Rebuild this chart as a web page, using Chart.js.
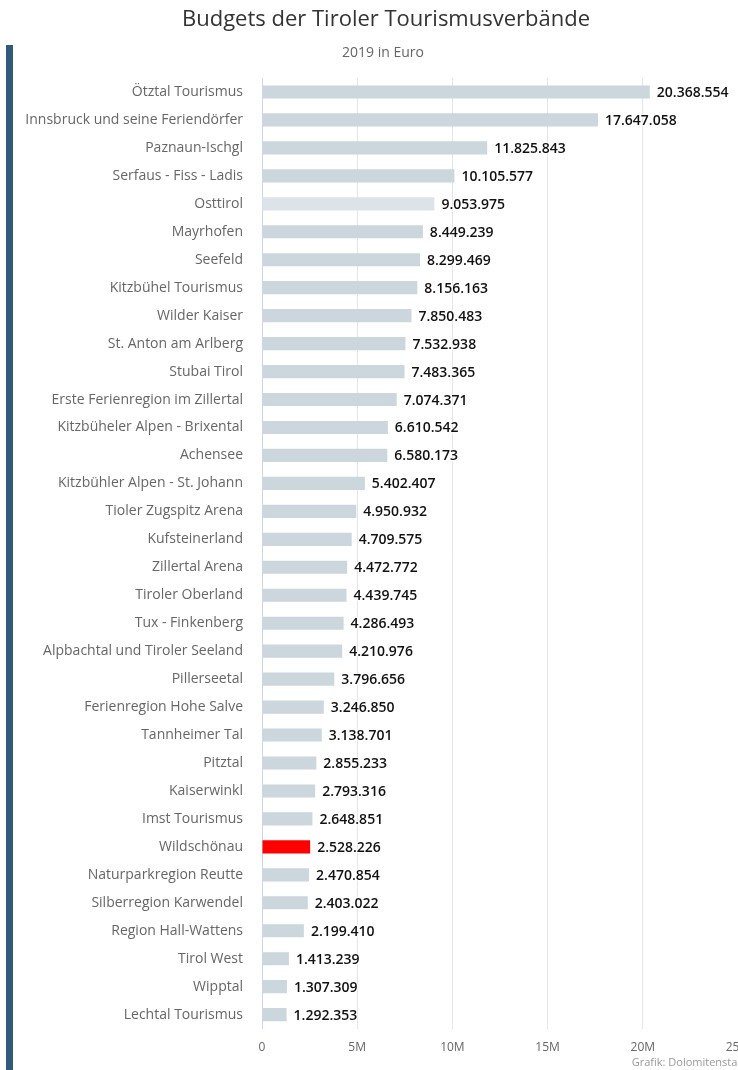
<!DOCTYPE html>
<html>
<head>
<meta charset="utf-8">
<script src="https://cdn.jsdelivr.net/npm/chart.js@4.4.1/dist/chart.umd.min.js"></script>
<style>
html,body{margin:0;padding:0;background:#fff;}
#wrap{position:relative;width:738px;height:1070px;}
</style>
</head>
<body>
<div id="wrap"><canvas id="c" width="738" height="1070"></canvas></div>
<script>
const titleText = 'Budgets der Tiroler Tourismusverbände';
const subtitleText = '2019 in Euro';
const creditText = 'Grafik: Dolomitenstadt';

const categories = [
  'Ötztal Tourismus','Innsbruck und seine Feriendörfer','Paznaun-Ischgl','Serfaus - Fiss - Ladis',
  'Osttirol','Mayrhofen','Seefeld','Kitzbühel Tourismus','Wilder Kaiser','St. Anton am Arlberg',
  'Stubai Tirol','Erste Ferienregion im Zillertal','Kitzbüheler Alpen - Brixental','Achensee',
  'Kitzbühler Alpen - St. Johann','Tioler Zugspitz Arena','Kufsteinerland','Zillertal Arena',
  'Tiroler Oberland','Tux - Finkenberg','Alpbachtal und Tiroler Seeland','Pillerseetal',
  'Ferienregion Hohe Salve','Tannheimer Tal','Pitztal','Kaiserwinkl','Imst Tourismus',
  'Wildschönau','Naturparkregion Reutte','Silberregion Karwendel','Region Hall-Wattens',
  'Tirol West','Wipptal','Lechtal Tourismus'
];
const budgets = [
  20368554,17647058,11825843,10105577,9053975,8449239,8299469,8156163,7850483,7532938,
  7483365,7074371,6610542,6580173,5402407,4950932,4709575,4472772,4439745,4286493,
  4210976,3796656,3246850,3138701,2855233,2793316,2648851,2528226,2470854,2403022,
  2199410,1413239,1307309,1292353
];
const xTicks = [0, 5000000, 10000000, 15000000, 20000000, 25000000];
const xTickLabels = ['0', '5M', '10M', '15M', '20M', '25M'];
const highlight = 'Wildschönau';
const hovered = 'Osttirol';

const barColors = categories.map(c => c === highlight ? '#ff0000' : (c === hovered ? '#dde4e9' : '#ccd6dd'));

function fmt(v){ return String(v).replace(/\B(?=(\d{3})+(?!\d))/g, '.'); }

const deco = {
  id: 'deco',
  beforeDraw(chart){
    const ctx = chart.ctx;
    ctx.save();
    ctx.fillStyle = '#fff';
    ctx.fillRect(0,0,chart.width,chart.height);
    ctx.fillStyle = '#2f5a7b';
    ctx.fillRect(6, 45, 7, 1025);
    ctx.textAlign = 'center';
    ctx.textBaseline = 'middle';
    ctx.fillStyle = '#333333';
    ctx.font = '22px "Open Sans", sans-serif';
    ctx.fillText(titleText, 386, 20);
    ctx.fillStyle = '#666666';
    ctx.font = '14px "Open Sans", sans-serif';
    ctx.fillText(subtitleText, 383, 53);
    ctx.textAlign = 'right';
    ctx.fillStyle = '#999999';
    ctx.font = '11px "Open Sans", sans-serif';
    ctx.fillText(creditText, 748, 1063);
    ctx.restore();
  },
  afterDatasetsDraw(chart){
    const ctx = chart.ctx;
    const meta = chart.getDatasetMeta(0);
    ctx.save();
    ctx.font = '600 14px "Open Sans", sans-serif';
    ctx.textAlign = 'left';
    ctx.textBaseline = 'middle';
    ctx.lineWidth = 2;
    ctx.strokeStyle = '#ffffff';
    ctx.fillStyle = '#111111';
    meta.data.forEach((bar, i) => {
      const t = fmt(budgets[i]);
      ctx.strokeText(t, bar.x + 7, bar.y + 1);
      ctx.fillText(t, bar.x + 7, bar.y + 1);
    });
    ctx.restore();
  }
};

new Chart(document.getElementById('c'), {
  type: 'bar',
  data: {
    labels: categories,
    datasets: [{
      data: budgets,
      backgroundColor: barColors,
      borderWidth: 0,
      barPercentage: 0.47,
      categoryPercentage: 1
    }]
  },
  options: {
    indexAxis: 'y',
    responsive: false,
    animation: false,
    events: [],
    layout: { padding: { top: 78, bottom: 3, left: 0, right: 0 } },
    plugins: { legend: { display: false }, tooltip: { enabled: false }, title: { display: false } },
    scales: {
      x: {
        type: 'linear',
        min: 0, max: 25000000,
        afterBuildTicks(scale){ scale.ticks = xTicks.map(v => ({ value: v })); },
        afterFit(scale){ scale.paddingLeft = 0; scale.paddingRight = 0; },
        ticks: {
          padding: 12,
          color: '#666666',
          font: { family: '"Open Sans", sans-serif', size: 12 },
          callback(v){ const i = xTicks.indexOf(v); return i >= 0 ? xTickLabels[i] : ''; },
          maxRotation: 0, autoSkip: false
        },
        grid: { color: '#e6e6e6', drawTicks: false, lineWidth: 1 },
        border: { display: false }
      },
      y: {
        afterFit(scale){ scale.width = 262; scale.paddingTop = 0; scale.paddingBottom = 0; },
        ticks: {
          padding: 19,
          color: '#666666',
          font: { family: '"Open Sans", sans-serif', size: 14 },
          autoSkip: false
        },
        grid: { display: false, drawTicks: false },
        border: { display: true, color: '#ccd6eb', width: 1 }
      }
    }
  },
  plugins: [deco]
});
</script>
</body>
</html>
